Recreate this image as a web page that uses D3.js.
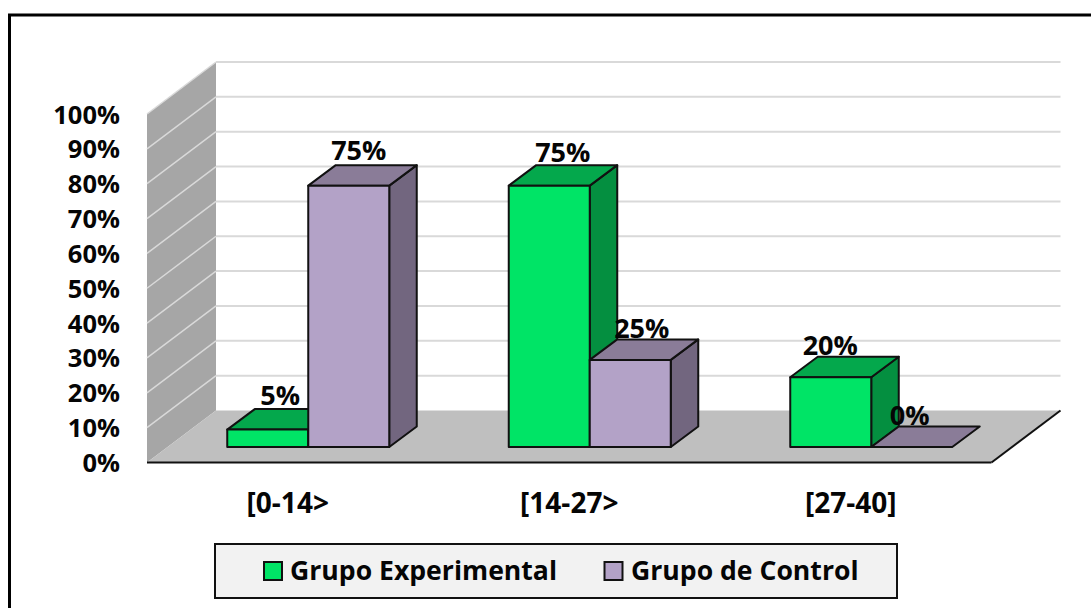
<!DOCTYPE html>
<html><head><meta charset="utf-8">
<script src="https://d3js.org/d3.v7.min.js"></script>
<style>html,body{margin:0;padding:0;background:#fff}svg{display:block}text{font-family:"Open Sans",Lato,sans-serif;font-weight:700;fill:#050505}</style>
</head><body><svg id="c" width="1091" height="608"></svg>
<script>
const categories=["[0-14>","[14-27>","[27-40]"];
const seriesNames=["Grupo Experimental","Grupo de Control"];
const experimental=[5,75,20];
const control=[75,25,0];
const ticks=[0,10,20,30,40,50,60,70,80,90,100];
const colors=[{front:"#00E466",top:"#04A84C",side:"#048F40"},{front:"#B3A2C7",top:"#8A7C98",side:"#72667F"}];
// hand-placed data label nudges of the original, per series then category
const labelNudgeX=[[12.5,13.5,-0.5],[10,11.5,-2]];
const labelNudgeY=[[-4.5,-3,-1.5],[-5,-1.5,-1.5]];

const svg=d3.select("#c");
const x0=147,x1=991.5,yFloor=462.5,yTop=114,depX=69,depY=52;
const x=d3.scaleBand().domain(categories).range([x0,x1]);
const y=d3.scaleLinear().domain([0,100]).range([yFloor,yTop]);
const s=d3.scaleBand().domain([0,1]).range([-81,81]);
const poly=(pts,fill,stroke,sw)=>svg.append("polygon").attr("points",pts.map(p=>p.join(",")).join(" ")).attr("fill",fill).attr("stroke",stroke||"none").attr("stroke-width",sw||0).attr("stroke-linejoin","round");
const line=(a,b,c,w)=>svg.append("line").attr("x1",a[0]).attr("y1",a[1]).attr("x2",b[0]).attr("y2",b[1]).attr("stroke",c).attr("stroke-width",w);

// frame
svg.append("path").attr("d","M9.5,608V15H1091").attr("fill","none").attr("stroke","#000").attr("stroke-width",3);

// walls and floor
poly([[x0,y(0)],[x0+depX,y(0)-depY],[x0+depX,y(100)-depY],[x0,y(100)]],"#A6A6A6");
poly([[x0,y(0)],[x0+depX,y(0)-depY],[x1+depX,y(0)-depY],[x1,y(0)]],"#BFBFBF");
ticks.forEach(t=>{
  if(t>0){
    line([x0,y(t)],[x0+depX,y(t)-depY],"#D9D9D9",1.5);
    line([x0+depX,y(t)-depY],[x1+depX,y(t)-depY],"#D9D9D9",2);
  }
});
line([x0,y(0)],[x1,y(0)],"#111",2);
line([x1,y(0)],[x1+depX,y(0)-depY],"#111",2);

// bars
const offX=20.5,offY=15.5,dX=27.5,dY=20.5;
const bars=[];
[experimental,control].forEach((vals,si)=>{
  vals.forEach((v,ci)=>{
    const cx=x(categories[ci])+x.bandwidth()/2+offX;
    const l=cx+s(si),r=l+s.bandwidth();
    const b=y(0)-offY,t=y(v)-offY;
    const c=colors[si];
    const st="#111",w=2;
    if(v>0){
      poly([[r,b],[r+dX,b-dY],[r+dX,t-dY],[r,t]],c.side,st,w);
      poly([[l,t],[l+dX,t-dY],[r+dX,t-dY],[r,t]],c.top,st,w);
      poly([[l,b],[r,b],[r,t],[l,t]],c.front,st,w);
    } else {
      poly([[l,b],[l+dX,b-dY],[r+dX,b-dY],[r,b]],c.top,st,w);
    }
    bars.push({v,x:l+s.bandwidth()/2+labelNudgeX[si][ci],y:t-dY+labelNudgeY[si][ci]});
  });
});
bars.forEach(d=>svg.append("text").attr("x",d.x).attr("y",d.y).attr("text-anchor","middle").attr("font-size",27).text(d.v+"%"));

// axis labels
ticks.forEach(t=>svg.append("text").attr("x",120).attr("y",y(t)+9.5).attr("text-anchor","end").attr("font-size",25.5).text(t+"%"));
categories.forEach(c=>svg.append("text").attr("x",x(c)+x.bandwidth()/2).attr("y",513).attr("text-anchor","middle").attr("font-size",28).text(c));

// legend
svg.append("rect").attr("x",215).attr("y",544).attr("width",682).attr("height",54).attr("fill","#F2F2F2").attr("stroke","#111").attr("stroke-width",2);
const lx=[264,604.5],tx=[290,631];
seriesNames.forEach((n,i)=>{
  svg.append("rect").attr("x",lx[i]).attr("y",562).attr("width",18).attr("height",18).attr("fill",colors[i].front).attr("stroke","#111").attr("stroke-width",2);
  svg.append("text").attr("x",tx[i]).attr("y",580).attr("font-size",26.6).text(n);
});
</script></body></html>
